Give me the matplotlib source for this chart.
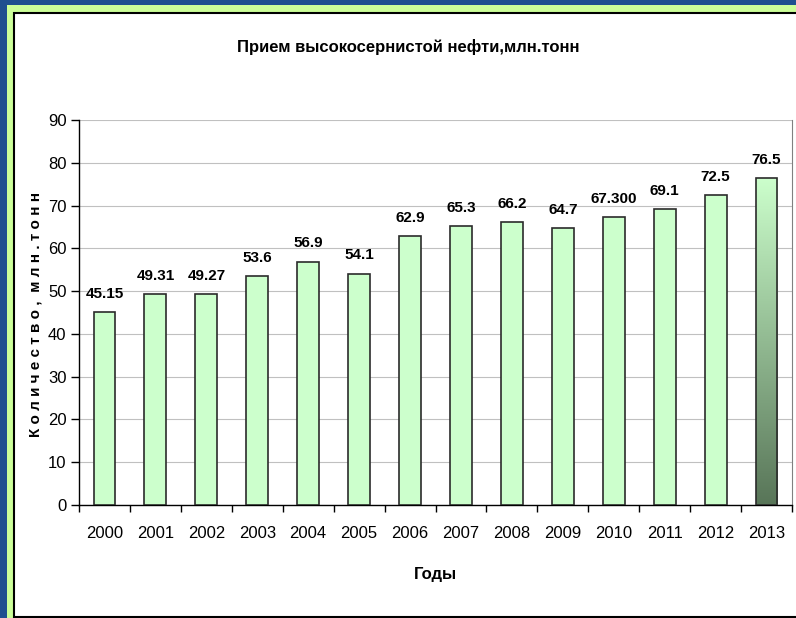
import numpy as np
import matplotlib
matplotlib.use("Agg")
import matplotlib.pyplot as plt
from matplotlib.patches import Rectangle
from matplotlib.colors import LinearSegmentedColormap
from matplotlib.ticker import MultipleLocator

years = ["2000", "2001", "2002", "2003", "2004", "2005", "2006",
         "2007", "2008", "2009", "2010", "2011", "2012", "2013"]
values = [45.15, 49.31, 49.27, 53.6, 56.9, 54.1, 62.9,
          65.3, 66.2, 64.7, 67.3, 69.1, 72.5, 76.5]
labels = ["45.15", "49.31", "49.27", "53.6", "56.9", "54.1", "62.9",
          "65.3", "66.2", "64.7", "67.300", "69.1", "72.5", "76.5"]

title = "Прием высокосернистой нефти,млн.тонн"
ylabel = "К о л и ч е с т в о ,  м л н . т о н н"
xlabel = "Годы"

FONT = ["Liberation Sans Narrow", "Liberation Sans", "DejaVu Sans"]
plt.rcParams["font.family"] = FONT

fig = plt.figure(figsize=(7.96, 6.18), dpi=100)
fig.patch.set_facecolor("#1f4f8f")

# slide frame: green strip + white card with black border
fig.patches.append(Rectangle((7 / 796, -0.1), 1.2, 1 - 5 / 618 + 0.1,
                             transform=fig.transFigure, facecolor="#ccff99",
                             edgecolor="none", zorder=0))
fig.patches.append(Rectangle((14 / 796, 1 / 618), 1.2, 1 - 14 / 618,
                             transform=fig.transFigure, facecolor="white",
                             edgecolor="black", linewidth=1.5, zorder=0.5))

ax = fig.add_axes([79 / 796, 1 - 505 / 618, 713 / 796, 385 / 618])
ax.set_zorder(2)
ax.set_facecolor("none")

x = np.arange(len(years))
bars = ax.bar(x, values, width=0.43, color="#ccffcc", edgecolor="#2b2b2b",
              linewidth=1.2, zorder=3)

# gradient fill for the last bar
last = bars[-1]
cmap = LinearSegmentedColormap.from_list("g", ["#587558", "#ccffcc"])
grad = np.linspace(0, 1, 256).reshape(-1, 1)
bx, by = last.get_x(), last.get_y()
bw, bh = last.get_width(), last.get_height()
im = ax.imshow(grad, cmap=cmap, origin="lower", aspect="auto",
               extent=(bx, bx + bw, by, by + bh), zorder=3.5)
im.set_clip_path(last)
last.set_facecolor("none")
last.set_zorder(4)

for xi, v, lab in zip(x, values, labels):
    ax.annotate(lab, (xi, v), xytext=(0, 8), textcoords="offset points",
                ha="center", va="bottom", fontsize=11, fontweight="bold")

ax.set_xlim(-0.5, len(years) - 0.5)
ax.set_ylim(0, 90)
ax.yaxis.set_major_locator(MultipleLocator(10))
ax.grid(axis="y", color="#c0c0c0", linewidth=0.8, zorder=0)

ax.set_xticks(x)
ax.set_xticklabels(years)
ax.set_xticks(np.arange(-0.5, len(years)), minor=True)
ax.tick_params(axis="x", which="major", length=0, pad=15, labelsize=12)
ax.tick_params(axis="x", which="minor", length=5, width=1, direction="out")
ax.tick_params(axis="y", length=6, width=1, direction="out", pad=3,
               labelsize=12)

ax.spines["top"].set_visible(False)
ax.spines["right"].set_color("#808080")
ax.spines["left"].set_linewidth(1)
ax.spines["bottom"].set_linewidth(1)

fig.text(408 / 796, 1 - 47 / 618, title, ha="center", va="center",
         fontsize=12, fontweight="bold")
fig.text(36 / 796, 1 - 314 / 618, ylabel, ha="center", va="center",
         rotation=90, fontsize=11, fontweight="bold")
fig.text(435 / 796, 1 - 575 / 618, xlabel, ha="center", va="center",
         fontsize=12, fontweight="bold")

fig.savefig("out.png", dpi=100, facecolor=fig.get_facecolor())
